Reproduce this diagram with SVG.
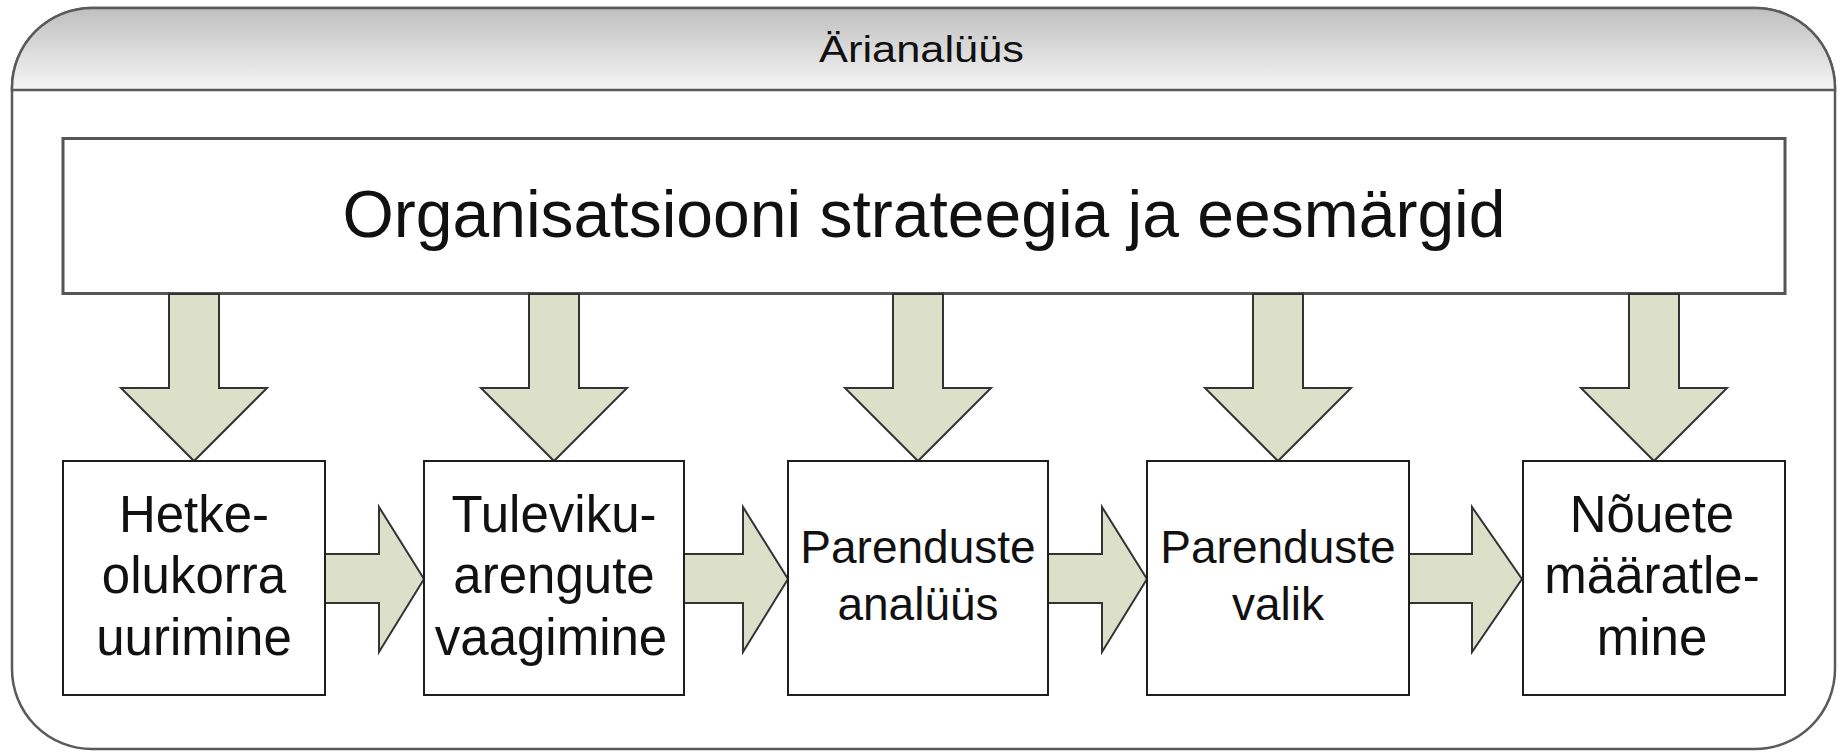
<svg xmlns="http://www.w3.org/2000/svg" width="1841" height="753" viewBox="0 0 1841 753">
<defs>
<linearGradient id="hdr" x1="0" y1="0" x2="0" y2="1">
<stop offset="0" stop-color="#bfbfbf"/>
<stop offset="1" stop-color="#f5f5f5"/>
</linearGradient>
</defs>
<style>
.frame{fill:#ffffff;stroke:#5a5a5a;stroke-width:2.5}
.box{fill:#ffffff;stroke:#1e1e1e;stroke-width:2}
.top{fill:#ffffff;stroke:#555555;stroke-width:3}
.arr{fill:#dde0c9;stroke:#333333;stroke-width:2;stroke-linejoin:miter}
.t{font-family:"Liberation Sans",Arial,sans-serif;fill:#111111;text-anchor:middle}
</style>
<g id="container">
<path class="frame" d="M12,88 A80,80 0 0 1 92,8 H1755 A80,80 0 0 1 1835,88 V669 A80,80 0 0 1 1755,749 H92 A80,80 0 0 1 12,669 Z"/>
<path d="M12,90 V88 A80,80 0 0 1 92,8 H1755 A80,80 0 0 1 1835,88 V90 Z" fill="url(#hdr)" stroke="#5a5a5a" stroke-width="2.5"/>
<text class="t" x="921.5" y="62" font-size="36" textLength="205" lengthAdjust="spacingAndGlyphs">Ärianalüüs</text>
</g>
<g id="strategy">
<rect class="top" x="63" y="138.5" width="1722" height="155"/>
<text class="t" x="924" y="237" font-size="66">Organisatsiooni strateegia ja eesmärgid</text>
</g>
<g id="connectors">
<polygon class="arr" points="169,294 219,294 219,388 267,388 194,461 121,388 169,388"/>
<polygon class="arr" points="529,294 579,294 579,388 627,388 554,461 481,388 529,388"/>
<polygon class="arr" points="893,294 943,294 943,388 991,388 918,461 845,388 893,388"/>
<polygon class="arr" points="1253,294 1303,294 1303,388 1351,388 1278,461 1205,388 1253,388"/>
<polygon class="arr" points="1629,294 1679,294 1679,388 1727,388 1654,461 1581,388 1629,388"/>
<polygon class="arr" points="325,554 379,554 379,507 424,579 379,652 379,603 325,603"/>
<polygon class="arr" points="684,554 743,554 743,507 788,579 743,652 743,603 684,603"/>
<polygon class="arr" points="1048,554 1102,554 1102,507 1147,579 1102,652 1102,603 1048,603"/>
<polygon class="arr" points="1409,554 1472,554 1472,507 1522,579 1472,652 1472,603 1409,603"/>
</g>
<g id="box1">
<rect class="box" x="63" y="461" width="262" height="234"/>
<text class="t" x="194" y="532" font-size="51">Hetke-</text>
<text class="t" x="194" y="593" font-size="51">olukorra</text>
<text class="t" x="194" y="655" font-size="51">uurimine</text>
</g>
<g id="box2">
<rect class="box" x="424" y="461" width="260" height="234"/>
<text class="t" x="554" y="532" font-size="51">Tuleviku-</text>
<text class="t" x="554" y="593" font-size="51">arengute</text>
<text class="t" x="551" y="655" font-size="51">vaagimine</text>
</g>
<g id="box3">
<rect class="box" x="788" y="461" width="260" height="234"/>
<text class="t" x="918" y="563" font-size="46">Parenduste</text>
<text class="t" x="918" y="620" font-size="46">analüüs</text>
</g>
<g id="box4">
<rect class="box" x="1147" y="461" width="262" height="234"/>
<text class="t" x="1278" y="563" font-size="46">Parenduste</text>
<text class="t" x="1278" y="620" font-size="46">valik</text>
</g>
<g id="box5">
<rect class="box" x="1523" y="461" width="262" height="234"/>
<text class="t" x="1652" y="532" font-size="51">Nõuete</text>
<text class="t" x="1652" y="593" font-size="51">määratle-</text>
<text class="t" x="1652" y="655" font-size="51">mine</text>
</g>
</svg>
